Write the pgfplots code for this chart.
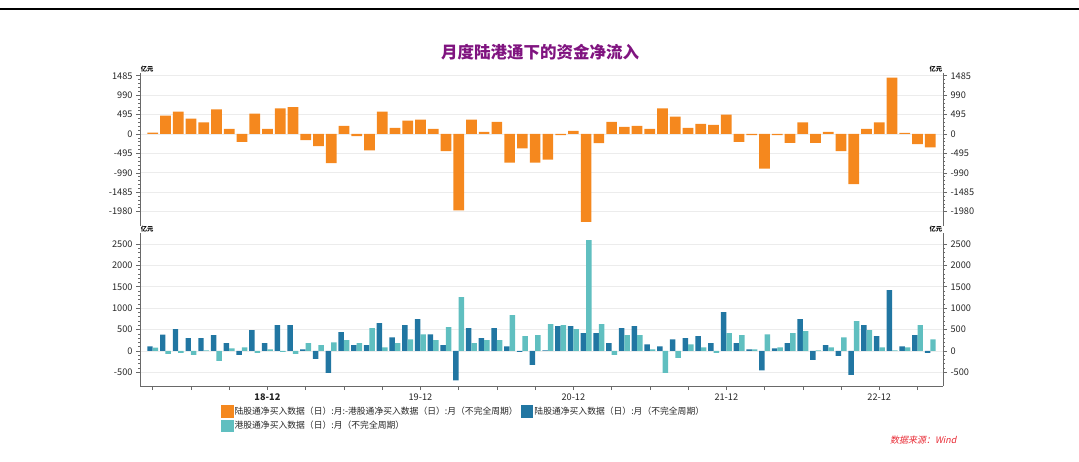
\documentclass[border=0pt]{standalone}
\usepackage{fontspec}
\setmainfont{Noto Sans CJK SC}
\newfontfamily\srcfont{Noto Sans CJK SC}[FakeSlant=0.2]
\usepackage{pgfplots}
\usepackage{pgfplotstable}
\pgfplotsset{compat=1.18}
\definecolor{orangeC}{RGB}{245,136,30}
\definecolor{darkC}{RGB}{33,118,162}
\definecolor{lightC}{RGB}{96,191,192}
\definecolor{titleC}{RGB}{128,20,128}
\definecolor{srcC}{RGB}{232,40,50}
\definecolor{axC}{RGB}{105,105,105}
\definecolor{gridC}{RGB}{236,236,236}

\pgfplotstableread{
i o d l
0 33 109 78
1 469 383 -70
2 573 508 -47
3 391 297 -94
4 295 297 16
5 625 367 -234
6 130 180 62
7 -200 -94 86
8 521 484 -47
9 130 180 39
10 651 601 -23
11 686 601 -70
12 -156 39 180
13 -312 -187 133
14 -746 -515 203
15 208 437 250
16 -52 133 180
17 -417 133 531
18 573 648 86
19 156 320 180
20 339 601 273
21 365 742 390
22 130 390 250
23 -434 133 555
24 -1950 -687 1257
25 365 531 180
26 52 297 250
27 312 531 250
28 -729 109 836
29 -365 -23 344
30 -729 -328 367
31 -651 16 625
32 -26 578 601
33 78 578 508
34 -2240 414 2593
35 -234 414 625
36 312 180 -94
37 182 531 367
38 208 578 367
39 130 156 39
40 651 109 -515
41 443 273 -164
42 156 297 156
43 260 344 86
44 234 180 -47
45 495 906 414
46 -200 180 367
47 -26 39 39
48 -885 -453 390
49 -26 62 86
50 -226 180 414
51 295 742 461
52 -226 -211 16
53 52 133 86
54 -434 -117 320
55 -1276 -562 695
56 130 601 484
57 295 344 86
58 1441 1421 16
59 26 109 86
60 -260 367 601
61 -339 -47 273
}\datatable

\tikzset{unitlbl/.style={font=\fontsize{6.3}{7}\selectfont\bfseries, inner sep=0.6pt, text=black}}

\pgfplotsset{
  panel/.style={
    scale only axis, width=803pt, height=153pt, anchor=south west,
    xmin=-1, xmax=62, clip=false,
    axis line style={draw=axC, line width=0.8pt},
    tick style={draw=axC, line width=0.6pt},
    tick align=outside, major tick length=4pt, minor tick length=2pt,
    minor y tick num=4,
    ticklabel style={font=\fontsize{9.2}{10}\selectfont, text=black!85},
    /pgf/number format/assume math mode=true,
    /pgf/number format/1000 sep={},
  },
  toppanel/.style={panel, at={(140pt,235pt)}, ymin=-2347, ymax=1556,
    ytick={-1980,-1485,-990,-495,0,495,990,1485}, axis x line=none},
  botpanel/.style={panel, at={(140pt,75pt)}, ymin=-820, ymax=2758,
    ytick={-500,0,500,1000,1500,2000,2500}},
}

\begin{document}
\begin{tikzpicture}
\path[use as bounding box] (0,0) rectangle (1079pt,461pt);
\draw[line width=1.6pt, black] (0,452pt) -- (1079pt,452pt);
\node[font=\fontsize{16.5}{18}\selectfont\bfseries, text=titleC] at (540pt,409pt) {月度陆港通下的资金净流入};

% top panel
\begin{axis}[toppanel, axis y line*=left, ymajorgrids,
  grid style={draw=gridC, line width=0.8pt}, ybar, bar width=0.84]
\addplot[fill=orangeC, draw=none] table[x=i,y=o]{\datatable};
\node[unitlbl, anchor=south west] at (rel axis cs:0,1) {亿元};
\end{axis}
\begin{axis}[toppanel, axis y line*=right]
\addplot[draw=none] coordinates {(0,0)};
\node[unitlbl, anchor=south east] at (rel axis cs:1,1) {亿元};
\end{axis}

% bottom panel
\begin{axis}[botpanel, axis y line*=left, axis x line*=bottom, ymajorgrids,
  grid style={draw=gridC, line width=0.8pt}, ybar, bar width=0.43,
  xtick={0,3,...,60},
  xticklabels={,,,{\textbf{18-12}},,,,19-12,,,,20-12,,,,21-12,,,,22-12,},
  legend image code/.code={\path[#1, draw=none] (0pt,-6.3pt) rectangle (12.7pt,6.3pt);},
  legend style={at={(axis description cs:0.1005,-0.126)}, anchor=north west,
    draw=none, fill=none, inner sep=0pt, font=\fontsize{8.8}{10}\selectfont,
    text=black!85, row sep=1.5pt,
    /tikz/every even column/.append style={column sep=2pt},
    nodes={inner sep=1pt}},
  legend columns=2, legend cell align=left]
\addlegendimage{fill=orangeC}
\addlegendentry{陆股通净买入数据（日）:月:-港股通净买入数据（日）:月（不完全周期）}
\addplot[fill=darkC, draw=none, bar shift=-0.215] table[x=i,y=d]{\datatable};
\addlegendentry{陆股通净买入数据（日）:月（不完全周期）}
\addplot[fill=lightC, draw=none, bar shift=0.215] table[x=i,y=l]{\datatable};
\addlegendentry{港股通净买入数据（日）:月（不完全周期）}
\node[unitlbl, anchor=south west] at (rel axis cs:0,1) {亿元};
\end{axis}
\begin{axis}[botpanel, axis y line*=right, axis x line=none]
\addplot[draw=none] coordinates {(0,0)};
\node[unitlbl, anchor=south east] at (rel axis cs:1,1) {亿元};
\end{axis}

\node[anchor=east, font=\srcfont\fontsize{9}{10}\selectfont, text=srcC] at (960pt,21pt) {数据来源：Wind};
\end{tikzpicture}
\end{document}
